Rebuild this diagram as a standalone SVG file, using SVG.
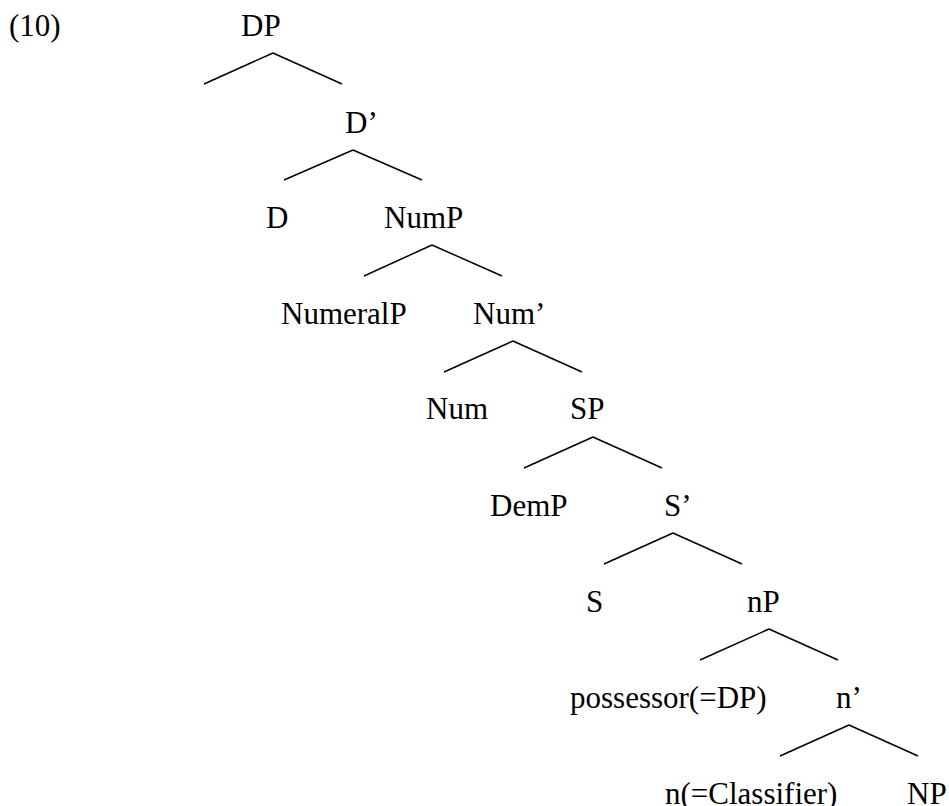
<svg xmlns="http://www.w3.org/2000/svg" width="949" height="806" viewBox="0 0 949 806">
<style>
text{font-family:"Liberation Serif","Times New Roman",serif;font-size:31px;fill:#000}
.e line{stroke:#000;stroke-width:1.5;fill:none}
</style>
<rect width="949" height="806" fill="#fff"/>
<text id="label" x="9" y="36">(10)</text>
<g id="n-DP"><text x="241" y="36">DP</text></g>
<g id="n-Dbar"><text x="345" y="133">D’</text></g>
<g id="n-D"><text x="266" y="228">D</text></g>
<g id="n-NumP"><text x="384" y="228">NumP</text></g>
<g id="n-NumeralP"><text x="281" y="324">NumeralP</text></g>
<g id="n-Numbar"><text x="473" y="324">Num’</text></g>
<g id="n-Num"><text x="426" y="419">Num</text></g>
<g id="n-SP"><text x="570" y="419">SP</text></g>
<g id="n-DemP"><text x="490" y="516">DemP</text></g>
<g id="n-Sbar"><text x="664" y="516">S’</text></g>
<g id="n-S"><text x="586" y="612">S</text></g>
<g id="n-nP"><text x="747" y="612">nP</text></g>
<g id="n-poss"><text x="570" y="708">possessor(=DP)</text></g>
<g id="n-nbar"><text x="836" y="708">n’</text></g>
<g id="n-n"><text x="665" y="804">n(=Classifier)</text></g>
<g id="n-NP"><text x="907" y="804">NP</text></g>
<g class="e" id="edges">
<line x1="273" y1="53" x2="204" y2="84"/><line x1="273" y1="53" x2="342" y2="84"/>
<line x1="353" y1="150" x2="284" y2="180"/><line x1="353" y1="150" x2="422" y2="180"/>
<line x1="432" y1="245" x2="364" y2="276"/><line x1="432" y1="245" x2="502" y2="276"/>
<line x1="513" y1="341" x2="444" y2="372"/><line x1="513" y1="341" x2="582" y2="372"/>
<line x1="593" y1="437" x2="524" y2="468"/><line x1="593" y1="437" x2="662" y2="468"/>
<line x1="673" y1="533" x2="604" y2="564"/><line x1="673" y1="533" x2="742" y2="564"/>
<line x1="769" y1="629" x2="700" y2="660"/><line x1="769" y1="629" x2="838" y2="660"/>
<line x1="849" y1="725" x2="780" y2="756"/><line x1="849" y1="725" x2="918" y2="756"/>
</g>
</svg>
